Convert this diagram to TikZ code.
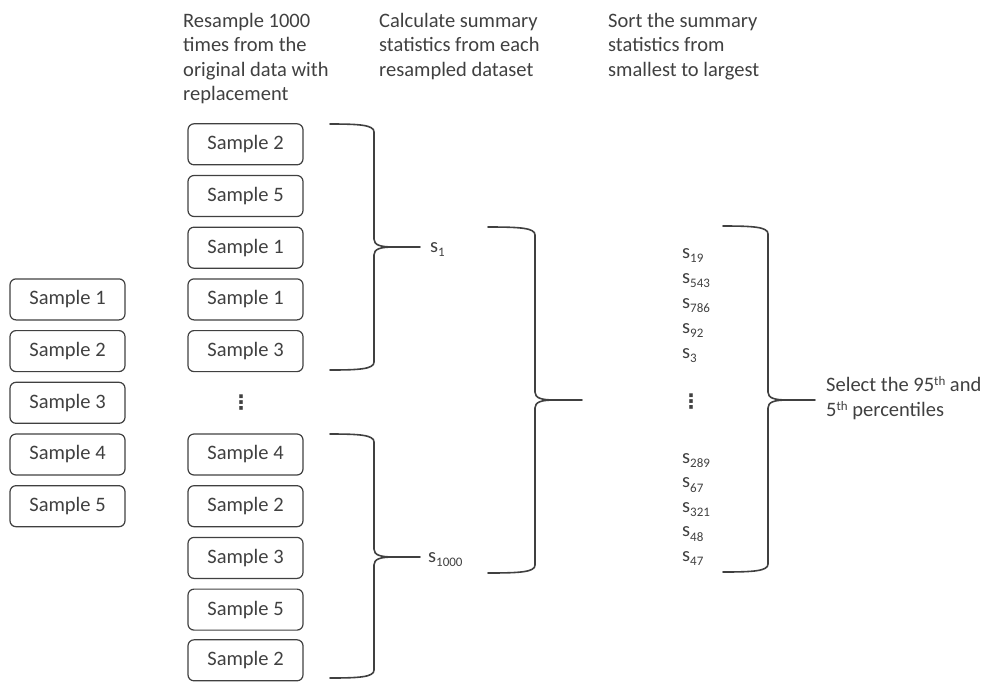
\documentclass[tikz,border=0pt]{standalone}
\usepackage{fontspec}
\setmainfont{Carlito}
\newfontfamily\symfont{DejaVu Sans}
\definecolor{ink}{HTML}{404040}
\newcommand\sbs[1]{\raisebox{-4.5pt}{\fontsize{13}{13}\selectfont #1}}
\newcommand\sps[1]{\raisebox{6pt}{\fontsize{13}{13}\selectfont #1}}
\newcommand\curlybrace[6]{% xl, xv, xt, top, tip, bot
  \draw[bracestyle] (#1,#4) .. controls ({#2-14},#4) and (#2,{#4+1}) .. (#2,{#4+8})
    -- (#2,{#5-8}) .. controls (#2,{#5-2}) and ({#2+6},#5) .. ({#2+20},#5) -- (#3,#5)
    ({#2+20},#5) .. controls ({#2+6},#5) and (#2,{#5+2}) .. (#2,{#5+8})
    -- (#2,{#6-8}) .. controls (#2,{#6-1}) and ({#2-14},#6) .. (#1,#6);}
\begin{document}
\begin{tikzpicture}[x=1pt,y=-1pt,
  every node/.style={text=ink, font=\fontsize{20.5}{24.5}\selectfont, inner sep=0pt},
  sbox/.style={draw=ink, line width=1.2pt, rounded corners=6pt, minimum width=115pt, minimum height=41pt},
  lab/.style={anchor=base west},
  head/.style={anchor=base west, align=left},
  vdots/.style={font=\fontsize{20}{20}\selectfont\symfont\bfseries},
  bracestyle/.style={draw=ink, line width=1.6pt, line cap=round}]
\useasboundingbox (0,0) rectangle (985,681);

% headers (anchor at baseline of last line)
\node[head] (h1) at (183,100.5) {Resample 1000\\times from the\\original data with\\replacement};
\node[head] (h2) at (379,76) {Calculate summary\\statistics from each\\resampled dataset};
\node[head] (h3) at (608,76) {Sort the summary\\statistics from\\smallest to largest};

% original data
\node[sbox] (l1) at (67.5,299.4) {Sample 1};
\node[sbox] (l2) at (67.5,351.1) {Sample 2};
\node[sbox] (l3) at (67.5,402.8) {Sample 3};
\node[sbox] (l4) at (67.5,454.5) {Sample 4};
\node[sbox] (l5) at (67.5,506.2) {Sample 5};

% resamples
\node[sbox] (m1) at (245.5,144.3) {Sample 2};
\node[sbox] (m2) at (245.5,196.0) {Sample 5};
\node[sbox] (m3) at (245.5,247.7) {Sample 1};
\node[sbox] (m4) at (245.5,299.4) {Sample 1};
\node[sbox] (m5) at (245.5,351.1) {Sample 3};
\node[vdots] (mdots) at (241,402.8) {⋮};
\node[sbox] (m6) at (245.5,454.5) {Sample 4};
\node[sbox] (m7) at (245.5,506.2) {Sample 2};
\node[sbox] (m8) at (245.5,557.9) {Sample 3};
\node[sbox] (m9) at (245.5,609.6) {Sample 5};
\node[sbox] (m10) at (245.5,660.3) {Sample 2};

% braces
\curlybrace{330}{374}{420}{124}{247}{370}
\coordinate (t1) at (420,247);
\curlybrace{330}{374}{420}{434}{557}{678}
\coordinate (t2) at (420,557);
\curlybrace{488}{535}{582}{227}{400}{573}
\coordinate (t3) at (582,400);
\curlybrace{723}{768}{815}{226}{400}{572}
\coordinate (t4) at (815,400);

% statistics
\node[lab] (s1) at (430,252) {s\sbs{1}};
\node[lab] (s1000) at (428,562) {s\sbs{1000}};

% sorted
\node[lab] (r1) at (682,258) {s\sbs{19}};
\node[lab] (r2) at (682,283) {s\sbs{543}};
\node[lab] (r3) at (682,308) {s\sbs{786}};
\node[lab] (r4) at (682,333) {s\sbs{92}};
\node[lab] (r5) at (682,358) {s\sbs{3}};
\node[vdots] (rdots) at (691,402) {⋮};
\node[lab] (r6) at (682,463) {s\sbs{289}};
\node[lab] (r7) at (682,487.5) {s\sbs{67}};
\node[lab] (r8) at (682,512) {s\sbs{321}};
\node[lab] (r9) at (682,536.5) {s\sbs{48}};
\node[lab] (r10) at (682,561) {s\sbs{47}};

% result
\node[head] (sel) at (826,416) {Select the 95\sps{th} and\\5\sps{th} percentiles};
\end{tikzpicture}
\end{document}
